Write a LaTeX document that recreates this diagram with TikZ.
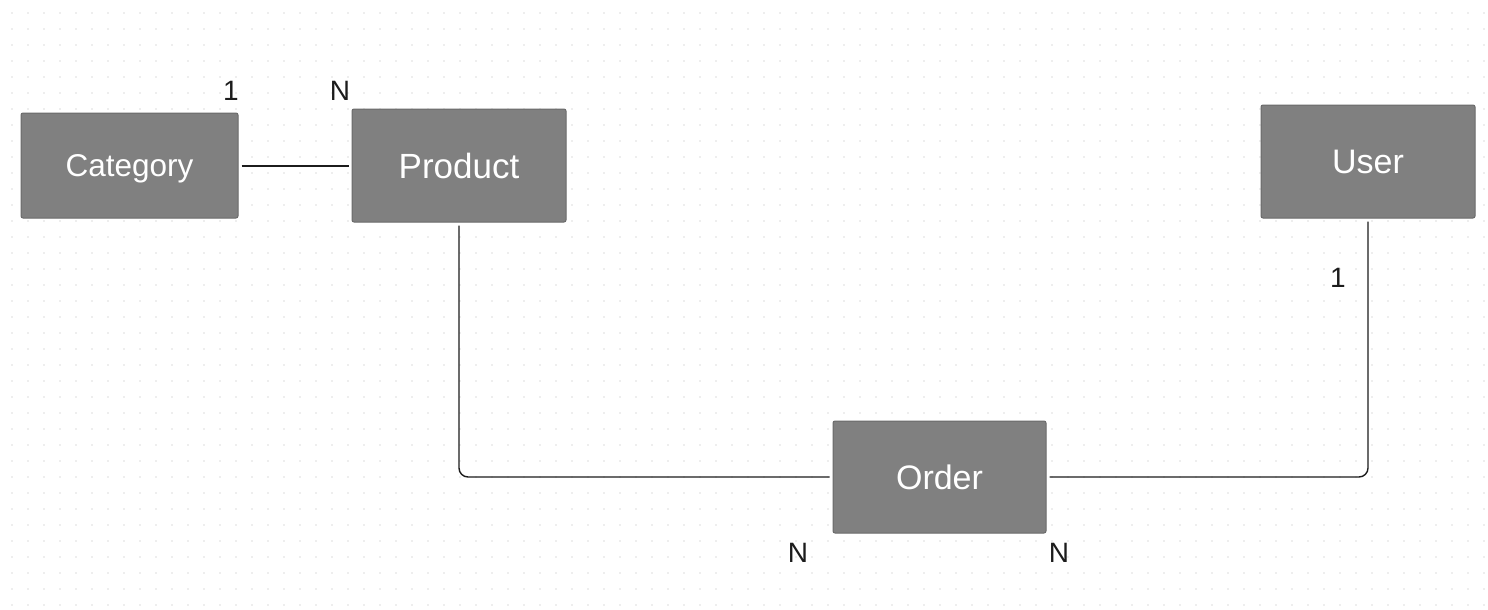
\documentclass[tikz,border=0pt]{standalone}
\usepackage{fontspec}
\setmainfont{Liberation Sans}
\definecolor{boxfill}{HTML}{808080}
\definecolor{boxedge}{HTML}{6A6A6A}
\definecolor{dotc}{HTML}{DEDEDE}
\definecolor{ink}{HTML}{1C1C1C}
\tikzset{
  entity/.style={draw=boxedge, line width=1pt, fill=boxfill, rounded corners=2pt,
    text=white, inner sep=0pt, anchor=center, text depth=0pt},
  link/.style={draw=ink, line width=1.4pt, rounded corners=9pt},
  card/.style={text=ink, font=\fontsize{28}{30}\selectfont, inner sep=0pt, anchor=center,
    text height=20pt, text depth=0pt}
}
\begin{document}
\begin{tikzpicture}[x=1pt,y=-1pt]
\fill[white] (0,0) rectangle (1488,610);
\useasboundingbox (0,0) rectangle (1488,610);
\foreach \i in {0,...,92}{
  \foreach \j in {0,...,37}{
    \fill[dotc] ({12+16*\i},{13+16*\j}) circle (0.9pt);
  }
}
\node[entity, minimum width=217pt, minimum height=105pt, text height=22.6pt, font=\fontsize{31.5}{33}\selectfont] (cat) at (129.5,165.5) {Category};
\node[entity, minimum width=214pt, minimum height=113pt, text height=25pt, font=\fontsize{35}{37}\selectfont] (prod) at (459,165.5) {Product};
\node[entity, minimum width=214pt, minimum height=113pt, text height=24.3pt, font=\fontsize{34}{36}\selectfont] (user) at (1368,161.5) {User};
\node[entity, minimum width=213pt, minimum height=112pt, text height=24.3pt, font=\fontsize{34}{36}\selectfont] (ord) at (939.5,477) {Order};
\coordinate (pc) at (459,477);
\coordinate (uc) at (1368,477);
\draw[link] ([xshift=3pt]cat.east |- 0,166) -- ([xshift=-3pt]prod.west |- 0,166);
\draw[link] ([yshift=-3pt]prod.south) -- (pc) -- ([xshift=-3pt]ord.west);
\draw[link] ([xshift=3pt]ord.east) -- (uc) -- ([yshift=-3pt]user.south);
\node[card] (l1) at (231,90) {1};
\node[card] (l2) at (340,90) {N};
\node[card] (l3) at (1338,277) {1};
\node[card] (l4) at (798,552) {N};
\node[card] (l5) at (1059,552) {N};
\end{tikzpicture}
\end{document}
